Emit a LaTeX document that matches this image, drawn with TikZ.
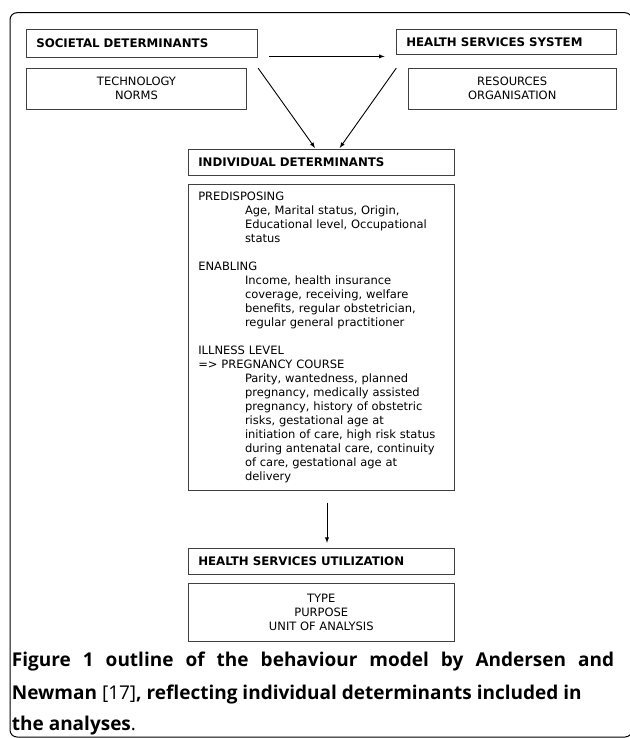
\documentclass[tikz,border=0pt]{standalone}
\usepackage{fontspec}
\setsansfont{DejaVu Sans}
\newfontfamily\capfont{Open Sans}
\usepackage{tikz}
\usetikzlibrary{positioning}
\usetikzlibrary{calc}

\tikzset{
  box/.style={draw=black!75, line width=0.8pt, rectangle, inner xsep=10pt, inner ysep=0pt,
    font=\sffamily\fontsize{11.5}{14}\selectfont},
  headbox/.style={box, font=\sffamily\bfseries\fontsize{11.8}{14}\selectfont, align=left},
  listbox/.style={box, align=center},
  arr/.style={-latex, line width=0.9pt},
  capline/.style={anchor=base west, inner sep=0pt, font=\capfont\fontsize{19}{22}\selectfont},
}

\begin{document}
\begin{tikzpicture}[x=1pt, y=-1pt]
\useasboundingbox (0,0) rectangle (629,738);
% outer frame
\draw[line width=1pt, rounded corners=7pt] (10,737) -- (10,12.7) -- (632,12.7) -- (632,737) -- cycle;

% societal / health system
\node[headbox, text width=211.4pt, minimum height=28pt] (soc) at (142,43) {SOCIETAL DETERMINANTS};
\node[listbox, minimum width=220.4pt, minimum height=40.7pt] (tech) at (136.5,88.7) {TECHNOLOGY\\NORMS};
\node[headbox, text width=200pt, minimum height=25pt] (hss) at (506.3,41.8) {HEALTH SERVICES SYSTEM};
\node[listbox, minimum width=208.3pt, minimum height=40.7pt] (res) at (512.2,88.7) {RESOURCES\\ORGANISATION};

% individual
\node[headbox, text width=246pt, minimum height=25.7pt] (ind) at (321.3,162.2) {INDIVIDUAL DETERMINANTS};
\node[box, text width=246pt, align=left, minimum height=306pt] (det) at (321.3,337.3) {%
PREDISPOSING\\
\hspace*{46.7pt}Age, Marital status, Origin,\\
\hspace*{46.7pt}Educational level, Occupational\\
\hspace*{46.7pt}status\\[14pt]
ENABLING\\
\hspace*{46.7pt}Income, health insurance\\
\hspace*{46.7pt}coverage, receiving, welfare\\
\hspace*{46.7pt}benefits, regular obstetrician,\\
\hspace*{46.7pt}regular general practitioner\\[14pt]
ILLNESS LEVEL\\
=> PREGNANCY COURSE\\
\hspace*{46.7pt}Parity, wantedness, planned\\
\hspace*{46.7pt}pregnancy, medically assisted\\
\hspace*{46.7pt}pregnancy, history of obstetric\\
\hspace*{46.7pt}risks, gestational age at\\
\hspace*{46.7pt}initiation of care, high risk status\\
\hspace*{46.7pt}during antenatal care, continuity\\
\hspace*{46.7pt}of care, gestational age at\\
\hspace*{46.7pt}delivery};

% utilization
\node[headbox, text width=246pt, minimum height=25.3pt] (hsu) at (321.3,561.3) {HEALTH SERVICES UTILIZATION};
\node[listbox, minimum width=266pt, minimum height=57.7pt] (out) at (321.3,612.2) {TYPE\\PURPOSE\\UNIT OF ANALYSIS};

% arrows
\coordinate (h1) at ($(soc.south east)+(11.3,-1)$);
\coordinate (h2) at ($(hss.south west)+(-11.3,1.7)$);
\draw[arr] (h1) -- (h2);
\draw[arr] ($(soc.south east)+(0,10.7)$) -- ($(ind.north)+(-6.3,-1)$);
\draw[arr] ($(hss.south west)+(0.4,13.4)$) -- ($(ind.north)+(18.4,-1)$);
\draw[arr] ($(det.south)+(5.7,12)$) -- ($(hsu.north)+(5.7,-5.4)$);

% caption
\node[capline] (cap1) at (11.7,666.5)
  {\makebox[602.3pt][s]{\bfseries Figure 1 outline of the behaviour model by Andersen and}};
\node[capline] (cap2) at (11.7,699)
  {\textbf{Newman} [17]\textbf{, reflecting individual determinants included in}};
\node[capline] (cap3) at (11.7,730)
  {\textbf{the analyses}.};
\end{tikzpicture}
\end{document}
